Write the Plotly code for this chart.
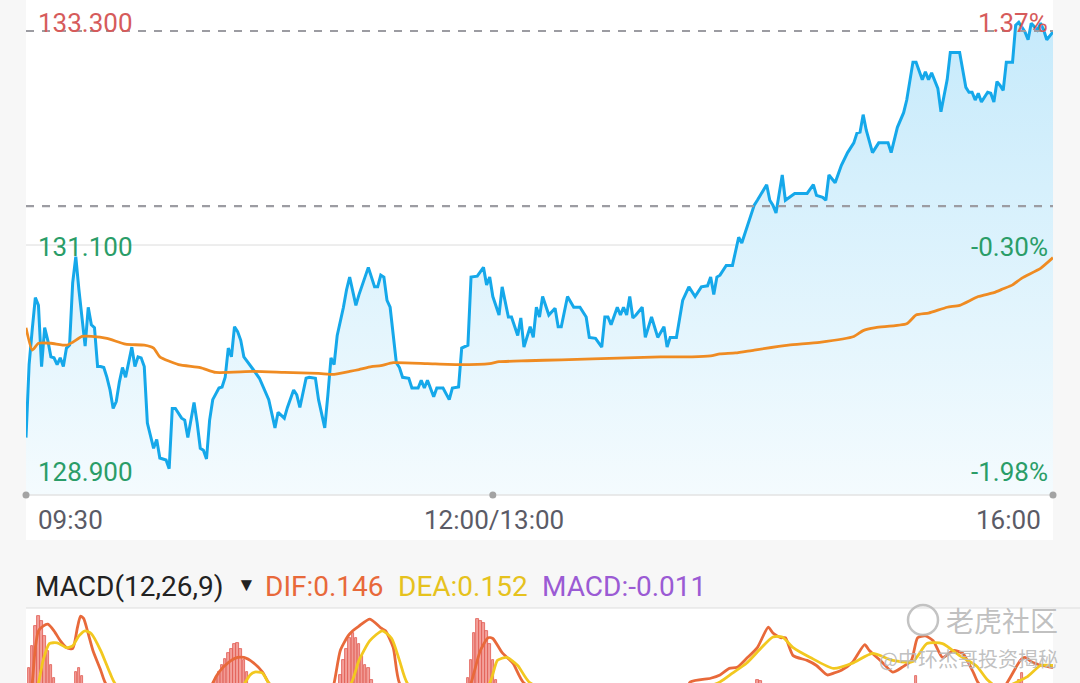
import plotly.graph_objects as go

W, H = 1080, 683

# ---------------- data ----------------
# HK session: 09:30-12:00 and 13:00-16:00 -> 330 trading minutes
total_minutes = 330
time_labels = ["09:30", "12:00/13:00", "16:00"]
time_label_minutes = [0, 150, 330]

prev_close = 131.5
label_high = 133.3
label_low = 128.9

price_minutes = [0, 1, 2, 3, 4, 5, 6, 7, 8, 9, 10, 11, 12, 13, 14, 15, 16, 17, 19, 20,
                 21, 22, 23, 24, 25, 26, 27, 28, 29, 30, 31, 32, 34, 35, 36, 37, 38, 39, 41, 42,
                 43, 45, 46, 47, 48, 50, 51, 52, 53, 54, 55, 56, 57, 58, 59, 60, 62, 63, 64, 65,
                 66, 67, 68, 69, 70, 72, 73, 75, 76, 77, 78, 80, 81, 83, 84, 86, 87, 88, 90, 91,
                 93, 94, 96, 97, 98, 99, 100, 102, 103, 104, 105, 106, 107, 110, 112, 113, 114, 115, 116, 117,
                 119, 120, 121, 123, 124, 126, 127, 128, 129, 131, 132, 134, 136, 137, 139, 140, 142, 143, 145, 147,
                 148, 149, 150, 152, 153, 155, 156, 158, 159, 160, 162, 163, 164, 165, 166, 168, 170, 171, 172, 174,
                 176, 178, 180, 181, 183, 185, 186, 187, 188, 190, 191, 192, 193, 194, 195, 196, 198, 199, 201, 203,
                 205, 206, 207, 209, 211, 213, 215, 217, 219, 220, 221, 222, 223, 225, 227, 229, 230, 234, 235, 236,
                 238, 239, 240, 241, 243, 244, 246, 247, 251, 253, 254, 256, 257, 258, 260, 262, 264, 266, 267, 268,
                 269, 270, 272, 274, 277, 278, 280, 281, 282, 283, 285, 286, 288, 289, 290, 291, 293, 294, 296, 297,
                 300, 302, 303, 304, 305, 306, 307, 309, 310, 311, 312, 313, 314, 315, 317, 318, 319, 321, 322, 323,
                 325, 326, 327, 328, 330]
price_values = [129.12, 129.87, 130.23, 130.56, 130.48, 129.85, 130.25, 130.12, 129.95, 129.94,
                129.87, 129.94, 129.85, 130.04, 130.07, 130.71, 130.98, 130.64, 130.06, 130.46,
                130.28, 130.25, 129.85, 129.85, 129.84, 129.74, 129.61, 129.42, 129.49, 129.69,
                129.84, 129.74, 130.05, 129.85, 129.95, 129.94, 129.85, 129.27, 129.01, 129.10,
                128.91, 128.89, 128.80, 129.42, 129.42, 129.32, 129.30, 129.12, 129.30, 129.48,
                129.27, 129.01, 128.99, 128.90, 129.30, 129.51, 129.63, 129.64, 129.74, 130.04,
                129.95, 130.26, 130.21, 130.12, 129.95, 129.87, 129.82, 129.73, 129.66, 129.58,
                129.51, 129.22, 129.38, 129.32, 129.43, 129.61, 129.56, 129.43, 129.73, 129.74,
                129.73, 129.51, 129.22, 129.56, 129.94, 129.87, 130.17, 130.46, 130.64, 130.77,
                130.64, 130.48, 130.59, 130.87, 130.67, 130.67, 130.79, 130.77, 130.53, 130.46,
                129.89, 129.84, 129.74, 129.73, 129.63, 129.63, 129.71, 129.63, 129.71, 129.54,
                129.63, 129.63, 129.51, 129.63, 129.64, 130.04, 130.07, 130.77, 130.78, 130.87,
                130.69, 130.77, 130.57, 130.38, 130.67, 130.36, 130.36, 130.17, 130.35, 130.05,
                130.26, 130.15, 130.46, 130.36, 130.57, 130.38, 130.45, 130.26, 130.26, 130.57,
                130.46, 130.46, 130.36, 130.15, 130.14, 130.05, 130.36, 130.36, 130.28, 130.46,
                130.38, 130.46, 130.38, 130.57, 130.35, 130.38, 130.46, 130.15, 130.36, 130.15,
                130.26, 130.05, 130.15, 130.15, 130.53, 130.67, 130.57, 130.67, 130.68, 130.77,
                130.59, 130.77, 130.79, 130.89, 130.89, 131.18, 131.12, 131.51, 131.56, 131.61,
                131.72, 131.56, 131.51, 131.43, 131.82, 131.56, 131.61, 131.63, 131.63, 131.72,
                131.61, 131.59, 131.56, 131.82, 131.74, 131.92, 132.05, 132.15, 132.25, 132.26,
                132.44, 132.28, 132.05, 132.15, 132.15, 132.05, 132.31, 132.39, 132.46, 132.59,
                132.98, 132.98, 132.80, 132.88, 132.80, 132.87, 132.71, 132.47, 132.80, 133.08,
                133.08, 132.72, 132.67, 132.67, 132.59, 132.66, 132.57, 132.67, 132.66, 132.57,
                132.78, 132.74, 132.69, 132.98, 132.98, 133.36, 133.39, 133.29, 133.21, 133.38,
                133.31, 133.38, 133.31, 133.21, 133.29]

avg_minutes = [0, 2, 4, 8, 13, 15, 18, 21, 26, 32, 38, 41, 43, 49, 56, 61, 73, 83, 94, 99,
               104, 107, 111, 114, 118, 129, 139, 149, 152, 161, 172, 182, 193, 204, 214, 220, 223, 228, 234, 245,
               255, 266, 269, 273, 283, 286, 290, 296, 300, 306, 311, 314, 317, 320, 326, 330]
avg_values = [130.25, 130.02, 130.09, 130.09, 130.07, 130.10, 130.16, 130.16, 130.14, 130.08,
              130.07, 130.04, 129.95, 129.87, 129.84, 129.79, 129.80, 129.79, 129.78, 129.77,
              129.80, 129.82, 129.85, 129.86, 129.89, 129.88, 129.87, 129.88, 129.90, 129.91,
              129.92, 129.93, 129.94, 129.95, 129.95, 129.96, 129.98, 129.99, 130.02, 130.07,
              130.10, 130.16, 130.22, 130.25, 130.29, 130.38, 130.40, 130.46, 130.48, 130.57,
              130.61, 130.65, 130.69, 130.76, 130.86, 130.97]

dif_minutes = [0, 2, 3, 4, 5.5, 7, 9, 11, 13, 15, 16.5, 17.5, 18.5, 20, 21.5, 24, 25.5, 35, 45, 50,
               57, 60, 62, 65, 68, 70, 73, 76, 78, 85, 92, 97, 99, 101, 103.5, 105, 107, 110.5, 114, 115.5,
               118, 120, 130, 137, 143, 146, 148.5, 150, 153, 156.5, 160, 175, 195, 205, 210, 213.5, 220, 223, 226, 228.5,
               231.5, 235, 238.5, 240, 242.5, 244, 246.5, 251, 254, 257.5, 259.5, 262, 265.5, 269.5, 271, 274.5, 278.5, 281.5, 284.5, 286.5,
               289, 291.5, 294.5, 298, 301, 304.5, 306, 310, 314, 319.5, 321, 323.5, 326.5, 330]
dif_values = [0.0, 0.104, 0.201, 0.247, 0.260, 0.265, 0.247, 0.220, 0.201, 0.198, 0.255, 0.287, 0.281, 0.239, 0.193, 0.139, 0.104, 0.0, -0.10, -0.08,
              0.03, 0.104, 0.134, 0.160, 0.174, 0.174, 0.160, 0.134, 0.104, 0.04, 0.02, 0.05, 0.104, 0.193, 0.233, 0.247, 0.260, 0.279, 0.255, 0.247,
              0.201, 0.104, 0.0, -0.02, 0.104, 0.193, 0.228, 0.226, 0.187, 0.158, 0.104, 0.05, 0.03, 0.02, 0.05, 0.107, 0.117, 0.126, 0.144, 0.147,
              0.171, 0.201, 0.257, 0.241, 0.228, 0.228, 0.179, 0.166, 0.152, 0.126, 0.131, 0.139, 0.160, 0.209, 0.193, 0.166, 0.134, 0.147, 0.166, 0.228,
              0.233, 0.220, 0.174, 0.193, 0.185, 0.131, 0.104, 0.08, 0.09, 0.166, 0.174, 0.160, 0.152, 0.146]

dea_minutes = [0, 4, 5.5, 7.5, 10, 13, 15, 17, 19, 21, 24, 27, 28.5, 40, 55, 62, 70, 72, 73.5, 76,
               78, 85, 97, 104.5, 107, 110.5, 114.5, 117.5, 120, 122.5, 132, 142, 149, 151.5, 154.5, 158, 162, 180, 205, 215,
               223, 227, 231.5, 236, 240, 243, 246.5, 252, 259.5, 265.5, 272, 278.5, 285, 289.5, 294.5, 300, 305.5, 309, 313, 321.5,
               326, 330]
dea_values = [0.0, 0.104, 0.166, 0.212, 0.214, 0.201, 0.206, 0.233, 0.247, 0.239, 0.193, 0.131, 0.104, 0.02, -0.04, 0.02, 0.100, 0.126, 0.134, 0.131,
              0.104, 0.07, 0.04, 0.104, 0.166, 0.220, 0.247, 0.226, 0.166, 0.104, 0.04, 0.05, 0.104, 0.166, 0.174, 0.152, 0.104, 0.06, 0.05, 0.08,
              0.107, 0.131, 0.158, 0.198, 0.230, 0.230, 0.201, 0.174, 0.144, 0.158, 0.185, 0.166, 0.163, 0.212, 0.212, 0.179, 0.150, 0.112, 0.09, 0.120,
              0.152, 0.152]

bar_minutes = [1, 2, 3, 4, 5, 6, 7, 8, 9, 16, 17, 18,
               61, 62, 63, 64, 65, 66, 67, 68, 69, 70, 71,
               101, 102, 103, 104, 105, 106, 107, 108, 109, 110, 111,
               142, 143, 144, 145, 146, 147, 148, 149, 150, 151,
               235, 236, 286, 319, 320]
bar_values = [0.144, 0.206, 0.260, 0.287, 0.273, 0.233, 0.193, 0.152, 0.117, 0.134, 0.144, 0.123,
              0.117, 0.134, 0.152, 0.171, 0.187, 0.198, 0.212, 0.214, 0.198, 0.166, 0.134,
              0.126, 0.166, 0.198, 0.228, 0.241, 0.228, 0.212, 0.179, 0.152, 0.144, 0.112,
              0.117, 0.166, 0.241, 0.279, 0.273, 0.268, 0.247, 0.212, 0.166, 0.112,
              0.112, 0.109, 0.123, 0.112, 0.131]

dif_last, dea_last, macd_last = 0.146, 0.152, -0.011

# ---------------- layout geometry (pixels) ----------------
X0, X1 = 26, 1053           # plot left / right
TOP_PX, AXIS_PX = 10, 495   # main panel top / x-axis line
HIGH_PX, LOW_PX = 31, 459   # pixel rows of label_high / label_low
MACD_TOP_PX = 608

per_px = (label_high - label_low) / (LOW_PX - HIGH_PX)
y_top = label_high + (HIGH_PX - TOP_PX) * per_px
y_bot = label_low - (AXIS_PX - LOW_PX) * per_px

def fx(px):
    return px / W

def fy(py):
    return 1 - py / H

RED = "#d65b5b"
GREEN = "#2a9d68"
BLUE = "#15a8ea"
ORANGE = "#ef8b22"
FONT = "Roboto"

fig = go.Figure()

# baseline for area fill
fig.add_trace(go.Scatter(x=[0, total_minutes], y=[y_bot, y_bot], mode="lines",
                         line=dict(width=0, color="rgba(0,0,0,0)"), hoverinfo="skip",
                         showlegend=False, xaxis="x", yaxis="y"))
fig.add_trace(go.Scatter(x=price_minutes, y=price_values, mode="lines",
                         line=dict(color=BLUE, width=3), fill="tonexty",
                         fillgradient=dict(type="vertical",
                                           colorscale=[[0, "#f4fbfe"], [1, "#c6eafb"]]),
                         showlegend=False, xaxis="x", yaxis="y"))
fig.add_trace(go.Scatter(x=avg_minutes, y=avg_values, mode="lines",
                         line=dict(color=ORANGE, width=2.8, shape="spline", smoothing=0.5),
                         showlegend=False, xaxis="x", yaxis="y"))

# MACD panel
fig.add_trace(go.Bar(x=bar_minutes, y=bar_values, width=0.8,
                     marker=dict(color="#f3a09a", line=dict(color="#e0594f", width=0.8)),
                     showlegend=False, xaxis="x2", yaxis="y2"))
fig.add_trace(go.Scatter(x=dif_minutes, y=dif_values, mode="lines",
                         line=dict(color="#e8693a", width=2.8, shape="spline", smoothing=0.6),
                         showlegend=False, xaxis="x2", yaxis="y2"))
fig.add_trace(go.Scatter(x=dea_minutes, y=dea_values, mode="lines",
                         line=dict(color="#f2c81f", width=2.8, shape="spline", smoothing=0.6),
                         showlegend=False, xaxis="x2", yaxis="y2"))

shapes = [
    # white backgrounds
    dict(type="rect", xref="paper", yref="paper", x0=fx(X0), x1=fx(X1), y0=fy(540), y1=1,
         fillcolor="white", line=dict(width=0), layer="below"),
    dict(type="rect", xref="paper", yref="paper", x0=fx(X0), x1=fx(X1), y0=0, y1=fy(MACD_TOP_PX),
         fillcolor="white", line=dict(width=0), layer="below"),
    # separator line above MACD
    dict(type="line", xref="paper", yref="paper", x0=fx(X0), x1=1, y0=fy(MACD_TOP_PX), y1=fy(MACD_TOP_PX),
         line=dict(color="#dedede", width=1.2)),
    # mid grid line
    dict(type="line", xref="x", yref="y", x0=0, x1=total_minutes,
         y0=(label_high + label_low) / 2, y1=(label_high + label_low) / 2,
         line=dict(color="#dcdcdc", width=1), layer="below"),
    # dashed lines: high and previous close
    dict(type="line", xref="x", yref="y", x0=0, x1=total_minutes, y0=label_high, y1=label_high,
         line=dict(color="#9c9ca2", width=2.2, dash="8px,8px")),
    dict(type="line", xref="x", yref="y", x0=0, x1=total_minutes, y0=prev_close, y1=prev_close,
         line=dict(color="#9c9ca2", width=2.2, dash="8px,8px")),
    # x axis line
    dict(type="line", xref="paper", yref="paper", x0=fx(X0), x1=fx(X1), y0=fy(AXIS_PX), y1=fy(AXIS_PX),
         line=dict(color="#e3e3e3", width=1.5)),
]
# tick dots
for m in time_label_minutes:
    px = X0 + (X1 - X0) * m / total_minutes
    shapes.append(dict(type="circle", xref="paper", yref="paper",
                       x0=fx(px - 3.5), x1=fx(px + 3.5), y0=fy(AXIS_PX + 3.5), y1=fy(AXIS_PX - 3.5),
                       fillcolor="#a3a3a3", line=dict(width=0)))
# watermark logo circle
shapes.append(dict(type="circle", xref="paper", yref="paper",
                   x0=fx(908), x1=fx(938), y0=fy(635), y1=fy(605),
                   line=dict(color="rgba(185,185,185,0.85)", width=2.5)))

def pct(v):
    return f"{(v / prev_close - 1) * 100:.2f}%"

mid = (label_high + label_low) / 2
ann = []
def add_text(text, px, py, color, size=26, xanchor="left", family=FONT):
    ann.append(dict(text=text, x=fx(px), y=fy(py), xref="paper", yref="paper",
                    xanchor=xanchor, yanchor="middle", showarrow=False,
                    font=dict(family=family, size=size, color=color)))

add_text(f"{label_high:.3f}", 36, 23, RED)
add_text(f"{mid:.3f}", 36, 247, GREEN)
add_text(f"{label_low:.3f}", 36, 472, GREEN)
add_text(pct(label_high), 1050, 23, RED, xanchor="right")
add_text(pct(mid), 1050, 247, GREEN, xanchor="right")
add_text(pct(label_low), 1050, 472, GREEN, xanchor="right")

add_text(time_labels[0], 36, 520, "#5b5b66")
add_text(time_labels[1], 494, 520, "#5b5b66", xanchor="center")
add_text(time_labels[2], 1043, 520, "#5b5b66", xanchor="right")

add_text("MACD(12,26,9)", 33, 586, "#222222", size=28)
add_text("▼", 235, 584, "#222222", size=19)
add_text(f"DIF:{dif_last:.3f}", 263, 586, "#e8693a", size=28)
add_text(f"DEA:{dea_last:.3f}", 396, 586, "#e6c21e", size=28)
add_text(f"MACD:{macd_last:.3f}", 540, 586, "#9b5bd4", size=28)

add_text("老虎社区", 1060, 620, "rgba(185,185,185,0.9)", size=28, xanchor="right",
         family="Noto Sans CJK SC")
add_text("@中环杰哥投资揭秘", 1060, 658, "rgba(185,185,185,0.9)", size=20, xanchor="right",
         family="Noto Sans CJK SC")

fig.update_layout(
    width=W, height=H,
    margin=dict(l=0, r=0, t=0, b=0),
    paper_bgcolor="#f7f7f7",
    plot_bgcolor="rgba(0,0,0,0)",
    showlegend=False,
    bargap=0,
    shapes=shapes,
    annotations=ann,
    xaxis=dict(domain=[fx(X0), fx(X1)], range=[0, total_minutes], visible=False, fixedrange=True),
    yaxis=dict(domain=[fy(AXIS_PX), fy(TOP_PX)], range=[y_bot, y_top], visible=False, fixedrange=True),
    xaxis2=dict(domain=[fx(X0), fx(X1)], range=[0, total_minutes], visible=False, anchor="y2"),
    yaxis2=dict(domain=[0, fy(MACD_TOP_PX + 2)], range=[0.104, 0.304], visible=False, anchor="x2"),
)

fig.write_html("out.html", config={"displayModeBar": False},
               post_script="document.body.style.margin='0';document.body.style.background='#f7f7f7';"
                           "document.body.style.overflow='hidden';")
